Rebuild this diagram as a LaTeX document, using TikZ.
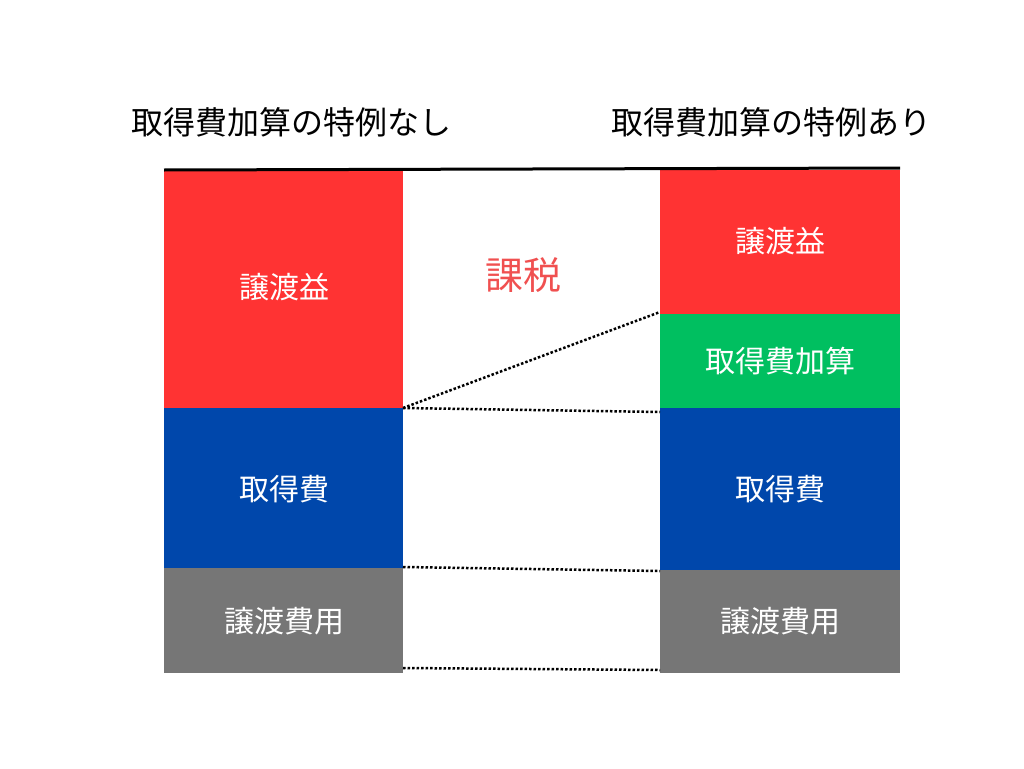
\documentclass[tikz,border=0pt]{standalone}
\usepackage{fontspec}
\setmainfont{Noto Sans CJK JP}
\begin{document}
\begin{tikzpicture}[x=1pt,y=-1pt,
  blk/.style={draw=none,inner sep=0},
  lbl/.style={text=white,font=\fontsize{30}{30}\selectfont},
  dl/.style={dotted,line width=2.5pt}]
\useasboundingbox (0,0) rectangle (1024,768);
\definecolor{cr}{HTML}{FF3333}\definecolor{cb}{HTML}{0047AB}
\definecolor{cg}{HTML}{00BF60}\definecolor{cy}{HTML}{767676}
\definecolor{ct}{HTML}{F05050}
\fill[cr] (164,170) rectangle (403,408);
\fill[cb] (164,408) rectangle (403,568);
\fill[cy] (164,568) rectangle (403,673);
\fill[cr] (660,170) rectangle (900,314);
\fill[cg] (660,314) rectangle (900,408);
\fill[cb] (660,408) rectangle (900,570);
\fill[cy] (660,570) rectangle (900,673);
\node[lbl] (a1) at (284,287) {譲渡益};
\node[lbl] (a2) at (284,489) {取得費};
\node[lbl] (a3) at (284,621) {譲渡費用};
\node[lbl] (b1) at (780,241) {譲渡益};
\node[lbl] (b2) at (780,361) {取得費加算};
\node[lbl] (b3) at (780,489) {取得費};
\node[lbl] (b4) at (780,621) {譲渡費用};
\node[font=\fontsize{38}{38}\selectfont,text=ct] (tax) at (523,275) {課税};
\node[font=\fontsize{32}{32}\selectfont] (t1) at (291,122) {取得費加算の特例なし};
\node[font=\fontsize{32}{32}\selectfont] (t2) at (771,122) {取得費加算の特例あり};
\draw[line width=3pt] (164,170) -- (900,168);
\draw[dl] (403,408) -- (660,312);
\draw[dl] (403,408) -- (660,412);
\draw[dl] (403,567) -- (660,571);
\draw[dl] (403,668) -- (660,670);
\end{tikzpicture}
\end{document}
